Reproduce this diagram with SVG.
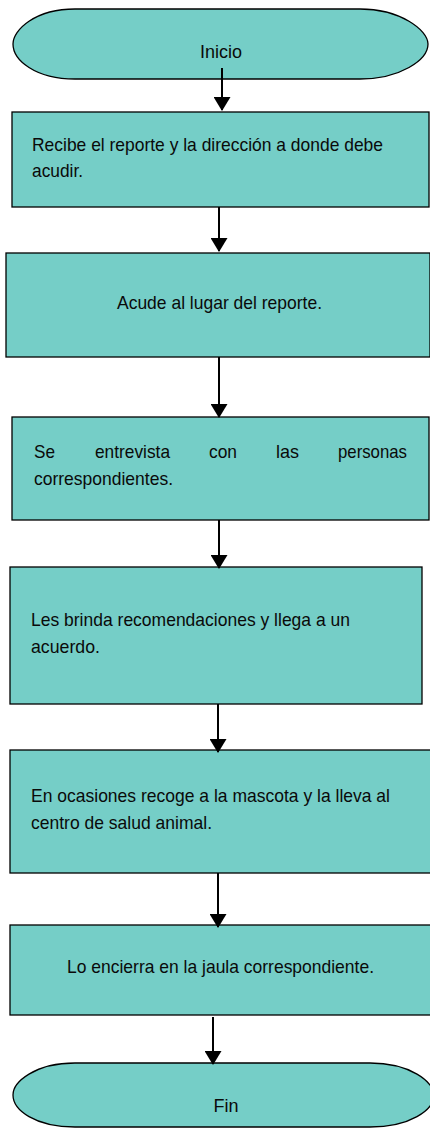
<svg xmlns="http://www.w3.org/2000/svg" width="430" height="1129" viewBox="0 0 430 1129">
<style>
.shape{fill:#75CEC7;stroke:#000;stroke-width:1.3}
.t{font-family:"Liberation Sans",Arial,sans-serif;font-size:19px;fill:#0a0a0a}
.term{font-family:"Liberation Sans",Arial,sans-serif;font-size:18px;fill:#0a0a0a}
.conn{stroke:#000;stroke-width:2;fill:none}
</style>
<defs>
<marker id="ah" markerUnits="userSpaceOnUse" viewBox="0 0 14 17" markerWidth="14" markerHeight="17" refX="13" refY="8.5" orient="auto">
<path d="M0,0 L14,8.5 L0,17 Z" fill="#000"/>
</marker>
</defs>
<rect width="430" height="1129" fill="#fff"/>
<g id="inicio">
<path class="shape" d="M75 9 H360 C400 9 428 30 428 44 C428 60 400 79 360 79 H75 C35 79 13 60 13 44 C13 30 35 9 75 9 Z"/>
<text class="term" x="221" y="58" text-anchor="middle">Inicio</text>
</g>
<g id="paso1">
<rect class="shape" x="12" y="112" width="417" height="95"/>
<text class="t" x="32" y="151" textLength="351" lengthAdjust="spacingAndGlyphs">Recibe el reporte y la dirección a donde debe</text>
<text class="t" x="32" y="177" textLength="51" lengthAdjust="spacingAndGlyphs">acudir.</text>
</g>
<g id="paso2">
<rect class="shape" x="6" y="253" width="424" height="104"/>
<text class="t" x="117" y="309" textLength="205" lengthAdjust="spacingAndGlyphs">Acude al lugar del reporte.</text>
</g>
<g id="paso3">
<rect class="shape" x="12" y="417" width="417" height="103"/>
<text class="t" x="34" y="458" textLength="21" lengthAdjust="spacingAndGlyphs">Se</text>
<text class="t" x="95" y="458" textLength="75" lengthAdjust="spacingAndGlyphs">entrevista</text>
<text class="t" x="209" y="458" textLength="28" lengthAdjust="spacingAndGlyphs">con</text>
<text class="t" x="276" y="458" textLength="23" lengthAdjust="spacingAndGlyphs">las</text>
<text class="t" x="338" y="458" textLength="69" lengthAdjust="spacingAndGlyphs">personas</text>
<text class="t" x="34" y="485" textLength="139" lengthAdjust="spacingAndGlyphs">correspondientes.</text>
</g>
<g id="paso4">
<rect class="shape" x="10" y="567" width="412" height="137"/>
<text class="t" x="31" y="626" textLength="319" lengthAdjust="spacingAndGlyphs">Les brinda recomendaciones y llega a un</text>
<text class="t" x="31" y="653" textLength="69" lengthAdjust="spacingAndGlyphs">acuerdo.</text>
</g>
<g id="paso5">
<rect class="shape" x="10" y="750" width="421" height="123"/>
<text class="t" x="31" y="802" textLength="359" lengthAdjust="spacingAndGlyphs">En ocasiones recoge a la mascota y la lleva al</text>
<text class="t" x="31" y="829" textLength="181" lengthAdjust="spacingAndGlyphs">centro de salud animal.</text>
</g>
<g id="paso6">
<rect class="shape" x="10" y="925" width="421" height="90"/>
<text class="t" x="67" y="973" textLength="307" lengthAdjust="spacingAndGlyphs">Lo encierra en la jaula correspondiente.</text>
</g>
<g id="fin">
<path class="shape" d="M75 1063 H370 C410 1063 434 1082 434 1095 C434 1110 410 1127 370 1127 H75 C35 1127 13 1110 13 1095 C13 1082 35 1063 75 1063 Z"/>
<text class="term" x="226" y="1112" text-anchor="middle">Fin</text>
</g>
<g id="connectors">
<line class="conn" x1="222" y1="68" x2="222" y2="110" marker-end="url(#ah)"/>
<line class="conn" x1="219" y1="207" x2="219" y2="251" marker-end="url(#ah)"/>
<line class="conn" x1="219" y1="357" x2="219" y2="417" marker-end="url(#ah)"/>
<line class="conn" x1="219" y1="520" x2="219" y2="568" marker-end="url(#ah)"/>
<line class="conn" x1="218" y1="704" x2="218" y2="752" marker-end="url(#ah)"/>
<line class="conn" x1="218" y1="873" x2="218" y2="927" marker-end="url(#ah)"/>
<line class="conn" x1="213" y1="1017" x2="213" y2="1064" marker-end="url(#ah)"/>
</g>
</svg>
